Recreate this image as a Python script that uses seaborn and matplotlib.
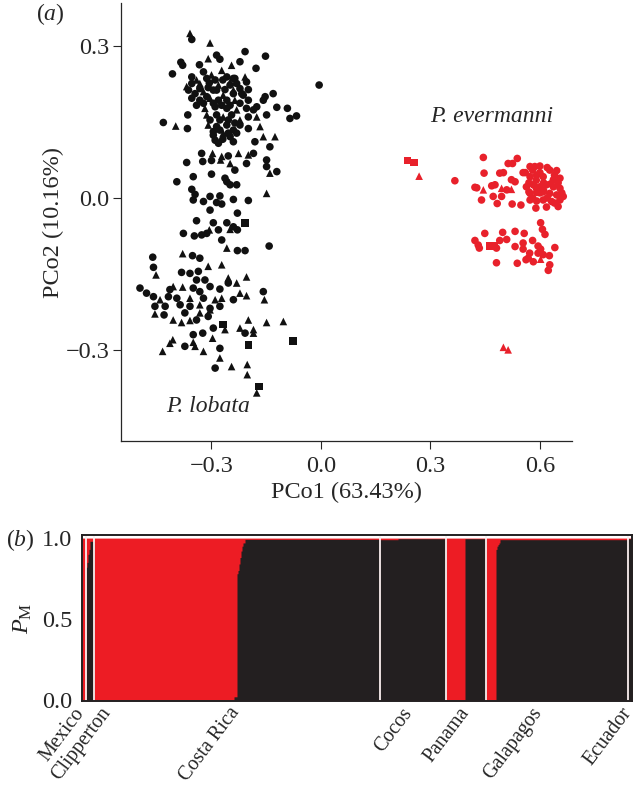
import numpy as np
import pandas as pd
import matplotlib
matplotlib.use('Agg')
import matplotlib.pyplot as plt
import seaborn as sns

RED = '#ED1C24'
BLACK = '#231F20'

# --- (a) PCoA scores ---
lobata_pco1 = [
    -0.359, -0.354, -0.304, -0.208, -0.152, -0.309, -0.286, -0.277, -0.384, -0.379,
    -0.333, -0.222, -0.245, -0.178, -0.407, -0.005, -0.354, -0.322, -0.300, -0.272,
    -0.258, -0.236, -0.204, -0.354, -0.332, -0.306, -0.281, -0.249, -0.222, -0.199,
    -0.363, -0.345, -0.322, -0.295, -0.268, -0.240, -0.213, -0.153, -0.131, -0.354,
    -0.332, -0.304, -0.281, -0.258, -0.236, -0.158, -0.176, -0.121, -0.092, -0.318,
    -0.290, -0.258, -0.231, -0.204, -0.185, -0.067, -0.085, -0.365, -0.432, -0.398,
    -0.366, -0.313, -0.286, -0.268, -0.245, -0.222, -0.199, -0.176, -0.149, -0.309,
    -0.286, -0.258, -0.222, -0.199, -0.167, -0.295, -0.268, -0.240, -0.290, -0.269,
    -0.249, -0.158, -0.126, -0.181, -0.140, -0.327, -0.297, -0.272, -0.254, -0.226,
    -0.199, -0.185, -0.368, -0.324, -0.300, -0.275, -0.249, -0.236, -0.204, -0.149,
    -0.149, -0.140, -0.121, -0.350, -0.300, -0.263, -0.395, -0.258, -0.249, -0.231,
    -0.354, -0.149, -0.304, -0.277, -0.350, -0.322, -0.345, -0.286, -0.272, -0.240,
    -0.199, -0.304, -0.229, -0.341, -0.295, -0.258, -0.208, -0.240, -0.306, -0.281,
    -0.249, -0.229, -0.377, -0.347, -0.327, -0.313, -0.272, -0.258, -0.229, -0.208,
    -0.142, -0.379, -0.352, -0.332, -0.461, -0.459, -0.452, -0.382, -0.359, -0.336,
    -0.309, -0.272, -0.341, -0.318, -0.254, -0.231, -0.204, -0.496, -0.478, -0.459,
    -0.441, -0.414, -0.405, -0.379, -0.350, -0.332, -0.304, -0.277, -0.254, -0.222,
    -0.204, -0.158, -0.155, -0.418, -0.395, -0.359, -0.322, -0.290, -0.272, -0.240,
    -0.455, -0.427, -0.386, -0.359, -0.332, -0.304, -0.277, -0.455, -0.430, -0.405,
    -0.382, -0.359, -0.332, -0.309, -0.304, -0.199, -0.149, -0.103, -0.185, -0.268,
    -0.263, -0.295, -0.324, -0.350, -0.297, -0.350, -0.406, -0.414, -0.434, -0.199,
    -0.076, -0.322, -0.277, -0.277, -0.290, -0.245, -0.202, -0.202, -0.169, -0.176,
    -0.345, -0.373, -0.222, -0.208, -0.185, -0.373, -0.341, -0.341, -0.313, -0.290,
    -0.269, -0.249, -0.231, -0.332, -0.309, -0.286, -0.263, -0.240, -0.217, -0.341,
    -0.322, -0.295, -0.272, -0.249, -0.222, -0.199, -0.304, -0.277, -0.254, -0.236,
    -0.295, -0.277, -0.254, -0.231, -0.281, -0.240, -0.313, -0.240, -0.208, -0.368,
]
lobata_pco2 = [
    0.325, 0.313, 0.306, 0.289, 0.280, 0.275, 0.282, 0.274, 0.268, 0.262,
    0.263, 0.269, 0.262, 0.256, 0.245, 0.223, 0.239, 0.249, 0.243, 0.252,
    0.239, 0.236, 0.229, 0.226, 0.226, 0.227, 0.223, 0.223, 0.216, 0.214,
    0.213, 0.206, 0.210, 0.213, 0.203, 0.206, 0.203, 0.200, 0.206, 0.197,
    0.193, 0.197, 0.193, 0.193, 0.193, 0.193, 0.180, 0.179, 0.177, 0.177,
    0.180, 0.177, 0.174, 0.177, 0.174, 0.162, 0.157, 0.164, 0.149, 0.142,
    0.137, 0.164, 0.164, 0.160, 0.164, 0.154, 0.160, 0.160, 0.164, 0.144,
    0.141, 0.144, 0.144, 0.137, 0.141, 0.131, 0.128, 0.134, 0.114, 0.116,
    0.121, 0.121, 0.121, 0.111, 0.101, 0.088, 0.088, 0.082, 0.083, 0.088,
    0.085, 0.088, 0.070, 0.072, 0.074, 0.075, 0.068, 0.055, 0.068, 0.075,
    0.062, 0.049, 0.052, 0.042, 0.047, 0.039, 0.032, 0.032, 0.026, 0.026,
    0.017, 0.009, 0.003, 0.004, -0.004, -0.007, 0.007, -0.009, -0.012, -0.003,
    -0.005, -0.024, -0.030, -0.045, -0.049, -0.049, -0.049, -0.057, -0.063, -0.063,
    -0.062, -0.063, -0.070, -0.075, -0.073, -0.070, -0.083, -0.099, -0.104, -0.104,
    -0.095, -0.110, -0.114, -0.119, -0.117, -0.137, -0.152, -0.147, -0.149, -0.145,
    -0.135, -0.132, -0.162, -0.162, -0.158, -0.168, -0.156, -0.178, -0.188, -0.195,
    -0.201, -0.181, -0.175, -0.176, -0.178, -0.185, -0.175, -0.180, -0.168, -0.188,
    -0.193, -0.185, -0.201, -0.195, -0.198, -0.198, -0.198, -0.201, -0.198, -0.201,
    -0.214, -0.214, -0.211, -0.214, -0.211, -0.218, -0.214, -0.229, -0.231, -0.241,
    -0.246, -0.242, -0.227, -0.234, -0.221, -0.241, -0.246, -0.244, -0.260, -0.250,
    -0.260, -0.257, -0.267, -0.270, -0.277, -0.285, -0.280, -0.287, -0.303, -0.290,
    -0.283, -0.303, -0.297, -0.316, -0.336, -0.333, -0.329, -0.349, -0.372, -0.385,
    -0.293, -0.293, -0.257, -0.267, -0.267, -0.227, -0.241, 0.233, 0.236, 0.233,
    0.233, 0.229, 0.226, 0.216, 0.218, 0.213, 0.214, 0.213, 0.206, 0.183,
    0.187, 0.187, 0.183, 0.183, 0.187, 0.193, 0.154, 0.154, 0.154, 0.148,
    0.124, 0.134, 0.128, 0.128, 0.108, 0.111, 0.200, 0.236, 0.239, 0.220,
]
lobata_shape = list(
    "^o^oo^oooo" "oo^ooooo^^" "oooo^o^ooo" "oo^o^ooooo" "o^oo^oooo^"
    "oo^oooooo^" "o^o^o^o^o^" "oooo^o^ooo" "o^^ooo^^o^" "^oooo^^ooo"
    "o^oooooooo" "o^oooooooo" "ooooooso^o" "^oooooo^oo" "o^oooo^ooo"
    "^^oo^^^ooo" "^o^^ooooo^" "^o^oo^o^^o" "oooo^oo^o^" "^^^o^^^^^s"
    "^ooo^^^^^s" "s^o^o^^^s^" "^o^o^oo^oo" "o^ooooo^oo" "oooooooooo"
    "oooooooo^^"
)

evermanni_pco1 = [
    0.237, 0.255, 0.269, 0.367, 0.445, 0.538, 0.513, 0.525, 0.447, 0.490,
    0.500, 0.554, 0.573, 0.586, 0.600, 0.627, 0.646, 0.522, 0.532, 0.573,
    0.591, 0.609, 0.655, 0.637, 0.422, 0.427, 0.445, 0.468, 0.477, 0.495,
    0.509, 0.522, 0.563, 0.582, 0.600, 0.618, 0.637, 0.655, 0.573, 0.591,
    0.609, 0.627, 0.646, 0.664, 0.440, 0.472, 0.495, 0.573, 0.591, 0.609,
    0.632, 0.655, 0.483, 0.524, 0.548, 0.589, 0.618, 0.650, 0.560, 0.580,
    0.600, 0.620, 0.640, 0.570, 0.590, 0.610, 0.630, 0.650, 0.580, 0.600,
    0.620, 0.640, 0.660, 0.610, 0.590, 0.570, 0.602, 0.607, 0.614, 0.449,
    0.498, 0.532, 0.557, 0.422, 0.431, 0.434, 0.463, 0.474, 0.490, 0.509,
    0.481, 0.532, 0.554, 0.554, 0.580, 0.595, 0.602, 0.641, 0.572, 0.595,
    0.609, 0.626, 0.481, 0.538, 0.562, 0.582, 0.602, 0.627, 0.623, 0.568,
    0.500, 0.513,
]
evermanni_pco2 = [
    0.074, 0.070, 0.043, 0.034, 0.080, 0.078, 0.068, 0.068, 0.049, 0.049,
    0.050, 0.050, 0.062, 0.062, 0.063, 0.055, 0.054, 0.036, 0.032, 0.042,
    0.045, 0.042, 0.039, 0.036, 0.021, 0.020, 0.016, 0.024, 0.026, 0.019,
    0.016, 0.017, 0.022, 0.026, 0.022, 0.026, 0.022, 0.019, 0.009, 0.011,
    0.012, 0.009, 0.006, 0.003, -0.004, 0.003, 0.003, -0.004, -0.006, -0.004,
    -0.007, -0.004, -0.011, -0.012, -0.014, -0.020, -0.018, -0.017, 0.050, 0.055,
    0.050, 0.060, 0.045, 0.030, 0.035, 0.030, 0.028, 0.030, 0.000, 0.010,
    0.000, -0.010, 0.010, 0.015, 0.020, 0.012, -0.049, -0.062, -0.072, -0.070,
    -0.068, -0.066, -0.070, -0.084, -0.093, -0.099, -0.095, -0.095, -0.084, -0.082,
    -0.099, -0.096, -0.089, -0.101, -0.084, -0.095, -0.101, -0.098, -0.109, -0.109,
    -0.112, -0.114, -0.128, -0.129, -0.122, -0.126, -0.121, -0.132, -0.143, -0.119,
    -0.295, -0.300,
]
evermanni_shape = list(
    "ss^ooooooo" "oooooooooo" "oooooo^oo^" "o^oooooooo" "oooooooooo"
    "oooooooooo" "oooooooooo" "oooooooooo" "oooooossoo" "oooooooooo"
    "oooooo^ooo" "^^"
)

# --- (b) admixture: runs of (n individuals, proportion in black cluster) ---
POPULATIONS = ['Mexico', 'Clipperton', 'Costa Rica', 'Cocos', 'Panama', 'Galapagos', 'Ecuador']
mexico_runs = [(4, 0.0)]
clipperton_runs = [(1, 0.82), (1, 0.85), (1, 0.90), (1, 0.93), (4, 0.98)]
costa_rica_runs = [(140, 0.0), (3, 0.02), (1, 0.78), (1, 0.80), (1, 0.84), (1, 0.88),
                   (1, 0.92), (1, 0.95), (2, 0.97), (135, 0.992)]
cocos_runs = [(18, 0.99), (48, 0.996)]
panama_runs = [(19, 0.0), (21, 0.996)]
galapagos_runs = [(10, 0.0), (1, 0.93), (1, 0.95), (1, 0.96), (1, 0.97), (128, 0.99)]
ecuador_runs = [(4, 0.996)]

# label nudges (in individuals) so the rotated names sit like the original
LABEL_NUDGE = [4.5, 25, 6.5, 3.5, 7.5, -10.5, 5.5]


def expand(runs):
    return np.concatenate([np.full(n, q) for n, q in runs])


if __name__ == '__main__':
    sns.set_style('ticks')
    plt.rcParams['font.family'] = ['Liberation Serif', 'DejaVu Serif']
    plt.rcParams['mathtext.fontset'] = 'custom'
    plt.rcParams['mathtext.rm'] = 'Liberation Serif'
    plt.rcParams['mathtext.it'] = 'Liberation Serif:italic'

    pcoa = pd.DataFrame({
        'pco1': lobata_pco1 + evermanni_pco1,
        'pco2': lobata_pco2 + evermanni_pco2,
        'species': ['P. lobata'] * len(lobata_pco1) + ['P. evermanni'] * len(evermanni_pco1),
        'shape': lobata_shape + evermanni_shape,
    })

    W, H = 639, 788
    fig = plt.figure(figsize=(W / 100, H / 100), dpi=100)

    # ---------------- (a) ----------------
    axa = fig.add_axes([121 / W, 1 - 441 / H, 451 / W, 438 / H])
    sns.scatterplot(data=pcoa, x='pco1', y='pco2', hue='species', style='shape',
                    palette={'P. lobata': '#111111', 'P. evermanni': '#E8212B'},
                    markers={'o': 'o', '^': '^', 's': 's'},
                    s=30, linewidth=0, legend=False, ax=axa)
    axa.set_xlim(-0.548, 0.688)
    axa.set_ylim(-0.48, 0.385)
    axa.set_xticks([-0.3, 0.0, 0.3, 0.6])
    axa.set_yticks([-0.3, 0.0, 0.3])
    sns.despine(ax=axa)
    for side in ['left', 'bottom']:
        axa.spines[side].set_linewidth(0.9)
    axa.tick_params(axis='both', direction='out', length=5.5, width=0.8, labelsize=17.5)
    axa.tick_params(axis='x', pad=5)
    axa.tick_params(axis='y', pad=3)
    axa.set_xlabel('PCo1 (63.43%)', fontsize=17.5, labelpad=4)
    axa.set_ylabel('PCo2 (10.16%)', fontsize=17.5, labelpad=1)
    axa.text(0.468, 0.160, 'P. evermanni', fontsize=17, style='italic', ha='center', va='center')
    axa.text(-0.310, -0.412, 'P. lobata', fontsize=17, style='italic', ha='center', va='center')
    fig.text(50 / W, 1 - 14 / H, r'($a$)', fontsize=17, ha='center', va='center')

    # ---------------- (b) ----------------
    all_runs = [mexico_runs, clipperton_runs, costa_rica_runs, cocos_runs,
                panama_runs, galapagos_runs, ecuador_runs]
    q_black = np.concatenate([expand(r) for r in all_runs])
    pop_sizes = np.array([sum(n for n, _ in r) for r in all_runs])
    n_ind = len(q_black)
    struct = pd.DataFrame({'ind': np.arange(n_ind), 'q_black': q_black})

    axb = fig.add_axes([82 / W, 1 - 701 / H, 550 / W, 166 / H])
    sns.histplot(data=struct, x='ind', discrete=True, element='step', fill=True,
                 color=RED, alpha=1, linewidth=0, ax=axb)
    sns.histplot(data=struct, x='ind', weights='q_black', discrete=True, element='step',
                 fill=True, color=BLACK, alpha=1, linewidth=0, ax=axb)
    edges = np.cumsum(pop_sizes)
    for b in edges[:-1]:
        axb.axvline(b - 0.5, color='#FBEFEF', lw=1.3)
    axb.set_xlim(-0.5, n_ind - 0.5)
    axb.set_ylim(-0.006, 1.019)
    axb.set_yticks([0.0, 0.5, 1.0])
    axb.set_yticklabels(['0.0', '0.5', '1.0'])
    axb.set_xticks([])
    axb.set_xlabel('')
    axb.set_ylabel(r'$P_{\mathrm{M}}$', fontsize=17.5, labelpad=6)
    axb.tick_params(axis='y', length=0, pad=7, labelsize=17.5)
    for side in axb.spines:
        axb.spines[side].set_linewidth(1.4)
        axb.spines[side].set_color(BLACK)

    centers = edges - pop_sizes / 2 - 0.5
    for name, c, dx in zip(POPULATIONS, centers, LABEL_NUDGE):
        axb.annotate(name, xy=(c + dx, 0), xycoords=('data', 'axes fraction'),
                     xytext=(0, -3), textcoords='offset pixels',
                     rotation=53, ha='right', va='top', fontsize=14.5,
                     annotation_clip=False)
    fig.text(20 / W, 1 - 540 / H, r'($b$)', fontsize=17, ha='center', va='center')

    fig.savefig('out.png', dpi=100)
